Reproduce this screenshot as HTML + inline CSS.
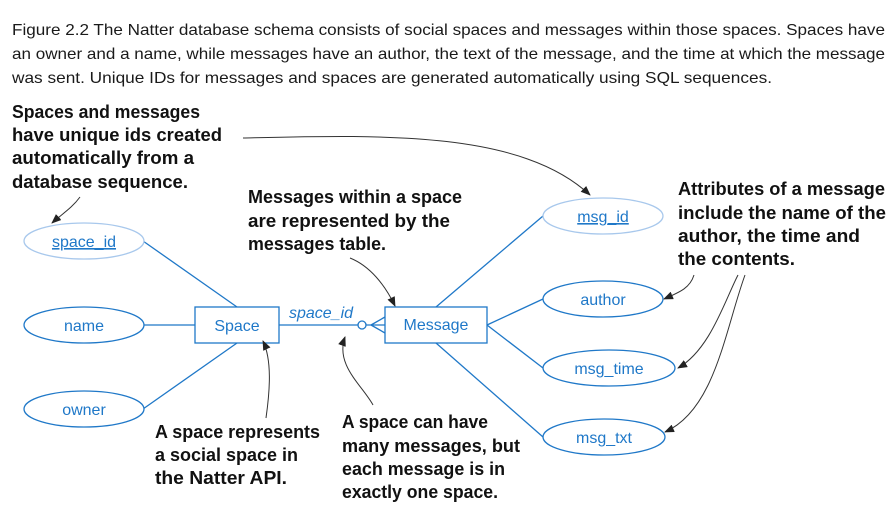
<!DOCTYPE html>
<html><head><meta charset="utf-8"><style>
html,body{margin:0;padding:0;background:#fff;}
svg{display:block;}
.cap{font-family:"Liberation Sans",sans-serif;font-size:16px;fill:#1a1a1a;}
.b{font-family:"Liberation Sans",sans-serif;font-size:18px;font-weight:bold;fill:#111;}
.e{font-family:"Liberation Sans",sans-serif;font-size:16px;fill:#1f78c8;}
</style></head><body>
<svg width="892" height="511" viewBox="0 0 892 511" xmlns="http://www.w3.org/2000/svg">
<defs>
<marker id="ah" markerWidth="10" markerHeight="8" refX="9" refY="4" orient="auto" markerUnits="userSpaceOnUse">
<path d="M0,0 L10,4 L0,8 Z" fill="#222"/></marker>
</defs>
<g class="cap">
<text x="12" y="35" textLength="873" lengthAdjust="spacingAndGlyphs">Figure 2.2 The Natter database schema consists of social spaces and messages within those spaces. Spaces have</text>
<text x="12" y="59" textLength="873" lengthAdjust="spacingAndGlyphs">an owner and a name, while messages have an author, the text of the message, and the time at which the message</text>
<text x="12" y="83" textLength="760" lengthAdjust="spacingAndGlyphs">was sent. Unique IDs for messages and spaces are generated automatically using SQL sequences.</text>
</g>
<g class="b">
<text x="12" y="118" textLength="188" lengthAdjust="spacingAndGlyphs">Spaces and messages</text>
<text x="12" y="141" textLength="210" lengthAdjust="spacingAndGlyphs">have unique ids created</text>
<text x="12" y="164" textLength="182" lengthAdjust="spacingAndGlyphs">automatically from a</text>
<text x="12" y="188" textLength="176" lengthAdjust="spacingAndGlyphs">database sequence.</text>
<text x="248" y="203" textLength="214" lengthAdjust="spacingAndGlyphs">Messages within a space</text>
<text x="248" y="227" textLength="202" lengthAdjust="spacingAndGlyphs">are represented by the</text>
<text x="248" y="250" textLength="138" lengthAdjust="spacingAndGlyphs">messages table.</text>
<text x="678" y="195" textLength="207" lengthAdjust="spacingAndGlyphs">Attributes of a message</text>
<text x="678" y="219" textLength="208" lengthAdjust="spacingAndGlyphs">include the name of the</text>
<text x="678" y="242" textLength="182" lengthAdjust="spacingAndGlyphs">author, the time and</text>
<text x="678" y="265" textLength="117" lengthAdjust="spacingAndGlyphs">the contents.</text>
<text x="155" y="438" textLength="165" lengthAdjust="spacingAndGlyphs">A space represents</text>
<text x="155" y="461" textLength="143" lengthAdjust="spacingAndGlyphs">a social space in</text>
<text x="155" y="484" textLength="132" lengthAdjust="spacingAndGlyphs">the Natter API.</text>
<text x="342" y="428" textLength="146" lengthAdjust="spacingAndGlyphs">A space can have</text>
<text x="342" y="452" textLength="178" lengthAdjust="spacingAndGlyphs">many messages, but</text>
<text x="342" y="475" textLength="163" lengthAdjust="spacingAndGlyphs">each message is in</text>
<text x="342" y="498" textLength="156" lengthAdjust="spacingAndGlyphs">exactly one space.</text>
</g>
<g stroke="#1f78c8" stroke-width="1.3" fill="none">
<line x1="143" y1="241" x2="237" y2="307"/>
<line x1="143" y1="325" x2="195" y2="325"/>
<line x1="143" y1="409" x2="237" y2="343"/>
<line x1="279" y1="325" x2="358" y2="325"/>
<line x1="436" y1="307" x2="543" y2="216"/>
<line x1="487" y1="325" x2="543" y2="299"/>
<line x1="487" y1="325" x2="543" y2="368"/>
<line x1="436" y1="343" x2="543" y2="437"/>
<circle cx="362" cy="325" r="4" fill="#fff"/>
<line x1="366" y1="325" x2="385" y2="325"/>
<line x1="371" y1="325" x2="385" y2="317"/>
<line x1="371" y1="325" x2="385" y2="333"/>
<rect x="195" y="307" width="84" height="36" fill="#fff"/>
<rect x="385" y="307" width="102" height="36" fill="#fff"/>
<ellipse cx="84" cy="325" rx="60" ry="18" fill="#fff"/>
<ellipse cx="84" cy="409" rx="60" ry="18" fill="#fff"/>
<ellipse cx="603" cy="299" rx="60" ry="18" fill="#fff"/>
<ellipse cx="609" cy="368" rx="66" ry="18" fill="#fff"/>
<ellipse cx="604" cy="437" rx="61" ry="18" fill="#fff"/>
</g>
<g stroke="#a8c8ec" stroke-width="1.3" fill="#fff">
<ellipse cx="84" cy="241" rx="60" ry="18"/>
<ellipse cx="603" cy="216" rx="60" ry="18"/>
</g>
<g class="e" text-anchor="middle">
<text x="84" y="247" text-decoration="underline">space_id</text>
<text x="84" y="331">name</text>
<text x="84" y="415">owner</text>
<text x="237" y="331">Space</text>
<text x="436" y="330">Message</text>
<text x="603" y="222" text-decoration="underline">msg_id</text>
<text x="603" y="305">author</text>
<text x="609" y="374">msg_time</text>
<text x="604" y="443">msg_txt</text>
<text x="321" y="318" font-style="italic">space_id</text>
</g>
<g stroke="#333" stroke-width="1" fill="none" marker-end="url(#ah)">
<path d="M243,138 C380,135 520,130 590,195"/>
<path d="M80,197 C72,208 62,214 52,223"/>
<path d="M350,258 C370,266 385,285 395,306"/>
<path d="M266,418 C270,390 272,360 263,341"/>
<path d="M373,405 C362,385 335,365 345,337"/>
<path d="M694,275 C690,288 680,292 664,299"/>
<path d="M738,275 C725,300 710,350 678,368"/>
<path d="M745,275 C725,330 715,410 665,432"/>
</g>
</svg>
</body></html>
